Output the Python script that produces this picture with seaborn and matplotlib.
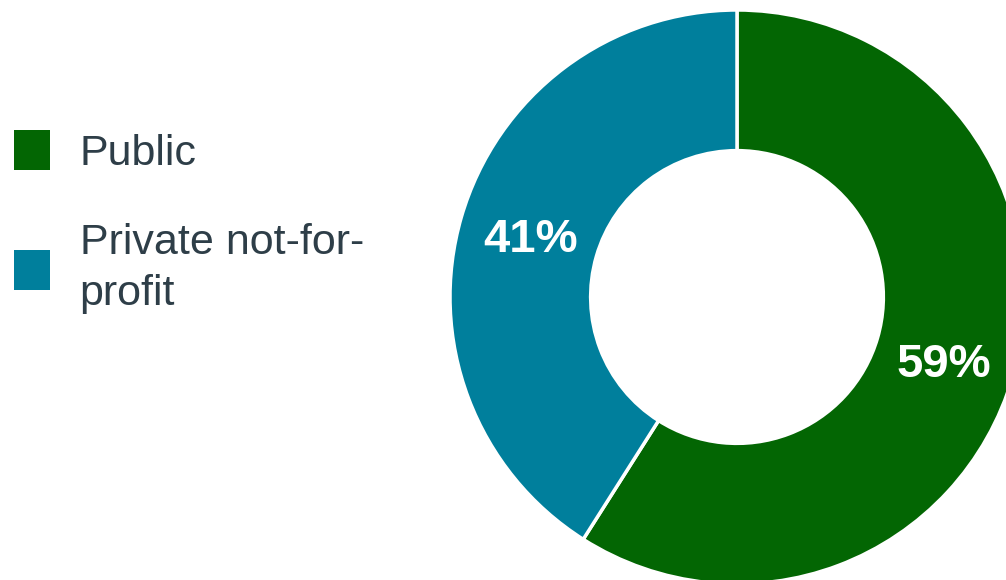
import matplotlib
matplotlib.use("Agg")
import matplotlib.pyplot as plt
import matplotlib.patches as mpatches
import seaborn as sns

sns.set_theme(style="white")
plt.rcParams["font.family"] = ["Liberation Sans", "DejaVu Sans"]

# data
labels = ["Public", "Private not-for-\nprofit"]
shares = [59, 41]
colors = ["#036603", "#007F9C"]
TEXT_COLOR = "#2E3E48"

fig = plt.figure(figsize=(10.06, 5.8), dpi=100)
fig.patch.set_facecolor("white")

# pie axes positioned in pixels: centre (737, 283 from bottom), radius 287
W, H = 1006, 580
r = 287
cx, cy = 737, 283
ax = fig.add_axes([(cx - r) / W, (cy - r) / H, 2 * r / W, 2 * r / H])

wedges, texts, autotexts = ax.pie(
    shares, colors=colors, startangle=90, counterclock=False,
    autopct=lambda p: f"{p:.0f}%", pctdistance=0.75,
    wedgeprops=dict(width=0.49, edgecolor="white", linewidth=2.5),
    textprops=dict(color="white", fontsize=34, fontweight="bold"),
)
# small nudges so the labels sit like the original
autotexts[0].set_y(autotexts[0].get_position()[1] - 0.028)
autotexts[1].set_y(autotexts[1].get_position()[1] - 0.012)
ax.set_xlim(-1, 1)
ax.set_ylim(-1, 1)
ax.set_axis_off()

handles = [mpatches.Patch(facecolor=c, edgecolor="none") for c in colors]
leg = fig.legend(
    handles, labels, loc="upper left", bbox_to_anchor=(0.0, 0.8),
    frameon=False, fontsize=31, labelcolor=TEXT_COLOR,
    handlelength=0.84, handleheight=1.05, handletextpad=0.68,
    labelspacing=1.15, borderaxespad=0, borderpad=0.33,
)
for t in leg.get_texts():
    t.set_linespacing(1.35)

fig.savefig("out.png", dpi=100)
